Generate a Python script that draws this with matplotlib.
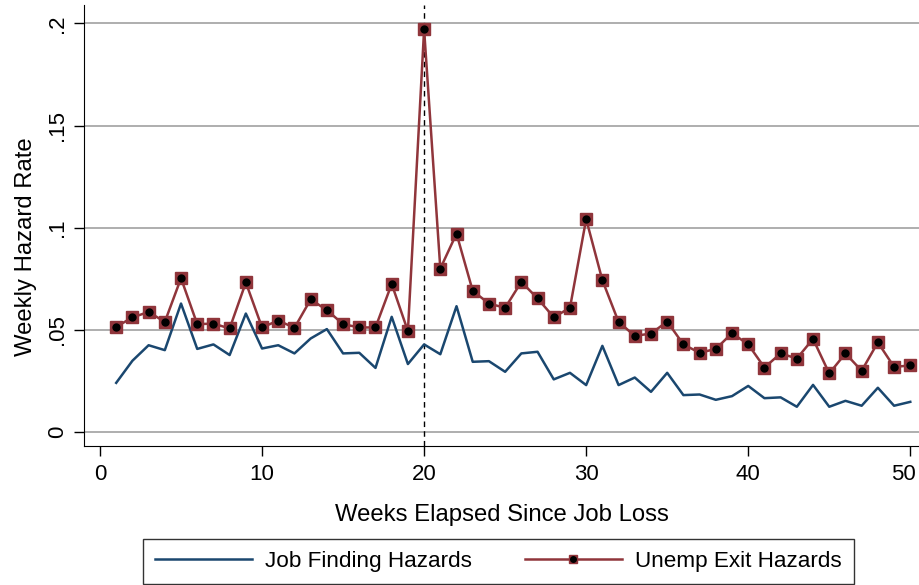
import numpy as np
import matplotlib
matplotlib.use("Agg")
import matplotlib.pyplot as plt
import matplotlib.transforms as mtransforms
from matplotlib.lines import Line2D

plt.rcParams['font.family'] = ['Liberation Sans', 'DejaVu Sans']

weeks = np.arange(1, 51)

job_finding = [0.0241, 0.0349, 0.0425, 0.0401, 0.0629, 0.0407, 0.0429, 0.0377, 0.0580, 0.0409,
               0.0425, 0.0385, 0.0458, 0.0504, 0.0385, 0.0388, 0.0314, 0.0564, 0.0333, 0.0429,
               0.0381, 0.0616, 0.0344, 0.0347, 0.0295, 0.0385, 0.0393, 0.0258, 0.0290, 0.0230,
               0.0422, 0.0230, 0.0267, 0.0197, 0.0290, 0.0181, 0.0184, 0.0158, 0.0176, 0.0226,
               0.0166, 0.0170, 0.0124, 0.0231, 0.0124, 0.0153, 0.0129, 0.0217, 0.0129, 0.0148]

unemp_exit = [0.0515, 0.0561, 0.0588, 0.0539, 0.0753, 0.0528, 0.0531, 0.0507, 0.0732, 0.0512,
              0.0546, 0.0510, 0.0649, 0.0597, 0.0528, 0.0512, 0.0512, 0.0725, 0.0494, 0.1970,
              0.0800, 0.0971, 0.0691, 0.0629, 0.0608, 0.0735, 0.0654, 0.0562, 0.0608, 0.1042,
              0.0743, 0.0539, 0.0471, 0.0482, 0.0541, 0.0429, 0.0388, 0.0407, 0.0484, 0.0429,
              0.0316, 0.0385, 0.0360, 0.0456, 0.0287, 0.0385, 0.0300, 0.0439, 0.0319, 0.0326]

x_ticks = [0, 10, 20, 30, 40, 50]
y_ticks = [0, 0.05, 0.1, 0.15, 0.2]
y_tick_labels = ['0', '.05', '.1', '.15', '.2']

navy = '#1A476F'
cranberry = '#90353B'

fig = plt.figure(figsize=(9.2, 5.85), dpi=100)
ax = fig.add_axes([0.0916, 0.2376, 0.9084, 0.754])

for yv in y_ticks:
    ax.axhline(yv, color='#a8a8a8', lw=1.3, zorder=0)
ax.axvline(20, color='black', lw=1, ls=(0, (4, 3)), zorder=1)

ax.plot(weeks, job_finding, color=navy, lw=1.8, zorder=2)
ax.plot(weeks, unemp_exit, color=cranberry, lw=1.8, marker='s', ms=9,
        mfc=cranberry, mec=cranberry, zorder=3)
ax.plot(weeks, unemp_exit, ls='none', marker='o', ms=5, mfc='black', mec='black', zorder=4)

ax.set_xlim(-0.97, 50.6)
ax.set_ylim(-0.0068, 0.209)
ax.set_xticks(x_ticks)
ax.set_yticks(y_ticks)
ax.set_yticklabels(y_tick_labels, rotation=90, va='center')
ax.tick_params(direction='out', length=7.2, width=1, labelsize=16)
ax.tick_params(axis='x', pad=5.6)
ax.tick_params(axis='y', pad=4.5)
for s in ['top', 'right']:
    ax.spines[s].set_visible(False)

# keep the last x label inside the picture
last = ax.get_xticklabels()[-1]
last.set_transform(last.get_transform() +
                   mtransforms.ScaledTranslation(-6.5 / 100, 0, fig.dpi_scale_trans))

ax.set_xlabel('Weeks Elapsed Since Job Loss', fontsize=17.2, labelpad=13.5)
ax.set_ylabel('Weekly Hazard Rate', fontsize=17.2)
ax.yaxis.set_label_coords(-0.057, 0.451)

h1 = Line2D([], [], color=navy, lw=1.8)
h2 = (Line2D([], [], color=cranberry, lw=1.8, marker='s', ms=6, mfc=cranberry, mec=cranberry),
      Line2D([], [], ls='none', marker='o', ms=4, mfc='black', mec='black'))
leg = fig.legend([h1, h2], ['Job Finding Hazards', 'Unemp Exit Hazards'],
                 loc='upper left', bbox_to_anchor=(0.1554, 0.0786), ncol=2,
                 fontsize=16.2, frameon=True, fancybox=False, handlelength=4.3,
                 handletextpad=0.6, columnspacing=2.35, borderpad=0.53,
                 borderaxespad=0)
leg.get_frame().set_edgecolor('black')
leg.get_frame().set_linewidth(1)

fig.savefig('out.png', dpi=100)
